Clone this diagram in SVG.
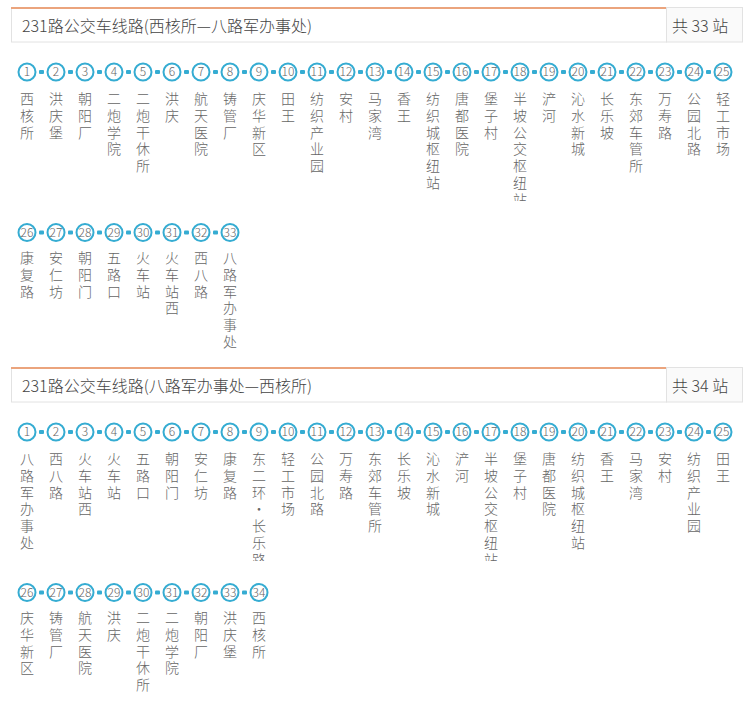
<svg xmlns="http://www.w3.org/2000/svg" width="754" height="708" viewBox="0 0 754 708">
<style>
.box{fill:#fff;stroke:#e2e2e2;stroke-width:1}
.cnt{fill:#fafafa;stroke:#e2e2e2;stroke-width:1}
.top{fill:#eba47d}
.tt{font-family:"Noto Sans CJK SC","Microsoft YaHei",sans-serif;font-size:16px;font-weight:300;fill:#444}
.c{fill:#fff;stroke:#35acd2;stroke-width:2}
.n{font-family:"Noto Sans CJK SC",sans-serif;font-size:12px;font-weight:300;fill:#666;text-anchor:middle}
.nm{font-family:"Noto Sans CJK SC",sans-serif;font-size:14px;font-weight:300;fill:#666;text-anchor:middle}
.b{fill:#35acd2}
</style>
<defs>
<clipPath id="c1"><rect x="0" y="0" width="754" height="201"/></clipPath>
<clipPath id="c2"><rect x="0" y="360" width="754" height="201"/></clipPath>
</defs>
<g id="header1">
<rect class="box" x="11.5" y="8.5" width="655" height="33.5"/>
<rect class="top" x="11" y="7" width="656" height="2"/>
<rect class="cnt" x="666.5" y="7.5" width="76" height="34.5"/>
<text class="tt" x="22" y="32">231路公交车线路(西核所—八路军办事处)</text>
<text class="tt" x="672" y="32">共 33 站</text>
</g>
<g id="header2">
<rect class="box" x="11.5" y="368.5" width="655" height="33.5"/>
<rect class="top" x="11" y="367" width="656" height="2"/>
<rect class="cnt" x="666.5" y="367.5" width="76" height="34.5"/>
<text class="tt" x="22" y="392">231路公交车线路(八路军办事处—西核所)</text>
<text class="tt" x="672" y="392">共 34 站</text>
</g>
<g id="connectors" class="b">
<rect x="39" y="70" width="5" height="4" rx="1"/><rect x="68" y="70" width="5" height="4" rx="1"/><rect x="97" y="70" width="5" height="4" rx="1"/><rect x="126" y="70" width="5" height="4" rx="1"/><rect x="155" y="70" width="5" height="4" rx="1"/><rect x="184" y="70" width="5" height="4" rx="1"/><rect x="213" y="70" width="5" height="4" rx="1"/><rect x="242" y="70" width="5" height="4" rx="1"/><rect x="271" y="70" width="5" height="4" rx="1"/><rect x="300" y="70" width="5" height="4" rx="1"/><rect x="329" y="70" width="5" height="4" rx="1"/><rect x="358" y="70" width="5" height="4" rx="1"/><rect x="387" y="70" width="5" height="4" rx="1"/><rect x="416" y="70" width="5" height="4" rx="1"/><rect x="445" y="70" width="5" height="4" rx="1"/><rect x="474" y="70" width="5" height="4" rx="1"/><rect x="503" y="70" width="5" height="4" rx="1"/><rect x="532" y="70" width="5" height="4" rx="1"/><rect x="561" y="70" width="5" height="4" rx="1"/><rect x="590" y="70" width="5" height="4" rx="1"/><rect x="619" y="70" width="5" height="4" rx="1"/><rect x="648" y="70" width="5" height="4" rx="1"/><rect x="677" y="70" width="5" height="4" rx="1"/><rect x="706" y="70" width="5" height="4" rx="1"/>
<rect x="39" y="230.5" width="5" height="4" rx="1"/><rect x="68" y="230.5" width="5" height="4" rx="1"/><rect x="97" y="230.5" width="5" height="4" rx="1"/><rect x="126" y="230.5" width="5" height="4" rx="1"/><rect x="155" y="230.5" width="5" height="4" rx="1"/><rect x="184" y="230.5" width="5" height="4" rx="1"/><rect x="213" y="230.5" width="5" height="4" rx="1"/>
<rect x="39" y="430" width="5" height="4" rx="1"/><rect x="68" y="430" width="5" height="4" rx="1"/><rect x="97" y="430" width="5" height="4" rx="1"/><rect x="126" y="430" width="5" height="4" rx="1"/><rect x="155" y="430" width="5" height="4" rx="1"/><rect x="184" y="430" width="5" height="4" rx="1"/><rect x="213" y="430" width="5" height="4" rx="1"/><rect x="242" y="430" width="5" height="4" rx="1"/><rect x="271" y="430" width="5" height="4" rx="1"/><rect x="300" y="430" width="5" height="4" rx="1"/><rect x="329" y="430" width="5" height="4" rx="1"/><rect x="358" y="430" width="5" height="4" rx="1"/><rect x="387" y="430" width="5" height="4" rx="1"/><rect x="416" y="430" width="5" height="4" rx="1"/><rect x="445" y="430" width="5" height="4" rx="1"/><rect x="474" y="430" width="5" height="4" rx="1"/><rect x="503" y="430" width="5" height="4" rx="1"/><rect x="532" y="430" width="5" height="4" rx="1"/><rect x="561" y="430" width="5" height="4" rx="1"/><rect x="590" y="430" width="5" height="4" rx="1"/><rect x="619" y="430" width="5" height="4" rx="1"/><rect x="648" y="430" width="5" height="4" rx="1"/><rect x="677" y="430" width="5" height="4" rx="1"/><rect x="706" y="430" width="5" height="4" rx="1"/>
<rect x="39" y="590.5" width="5" height="4" rx="1"/><rect x="68" y="590.5" width="5" height="4" rx="1"/><rect x="97" y="590.5" width="5" height="4" rx="1"/><rect x="126" y="590.5" width="5" height="4" rx="1"/><rect x="155" y="590.5" width="5" height="4" rx="1"/><rect x="184" y="590.5" width="5" height="4" rx="1"/><rect x="213" y="590.5" width="5" height="4" rx="1"/><rect x="242" y="590.5" width="5" height="4" rx="1"/>
</g>
<g id="route1">
<g id="a1"><circle class="c" cx="27" cy="72" r="8.5"/><text class="n" x="27" y="76">1</text><text class="nm" y="104"><tspan x="27">西</tspan><tspan x="27" dy="16.8">核</tspan><tspan x="27" dy="16.8">所</tspan></text></g>
<g id="a2"><circle class="c" cx="56" cy="72" r="8.5"/><text class="n" x="56" y="76">2</text><text class="nm" y="104"><tspan x="56">洪</tspan><tspan x="56" dy="16.8">庆</tspan><tspan x="56" dy="16.8">堡</tspan></text></g>
<g id="a3"><circle class="c" cx="85" cy="72" r="8.5"/><text class="n" x="85" y="76">3</text><text class="nm" y="104"><tspan x="85">朝</tspan><tspan x="85" dy="16.8">阳</tspan><tspan x="85" dy="16.8">厂</tspan></text></g>
<g id="a4"><circle class="c" cx="114" cy="72" r="8.5"/><text class="n" x="114" y="76">4</text><text class="nm" y="104"><tspan x="114">二</tspan><tspan x="114" dy="16.8">炮</tspan><tspan x="114" dy="16.8">学</tspan><tspan x="114" dy="16.8">院</tspan></text></g>
<g id="a5"><circle class="c" cx="143" cy="72" r="8.5"/><text class="n" x="143" y="76">5</text><text class="nm" y="104"><tspan x="143">二</tspan><tspan x="143" dy="16.8">炮</tspan><tspan x="143" dy="16.8">干</tspan><tspan x="143" dy="16.8">休</tspan><tspan x="143" dy="16.8">所</tspan></text></g>
<g id="a6"><circle class="c" cx="172" cy="72" r="8.5"/><text class="n" x="172" y="76">6</text><text class="nm" y="104"><tspan x="172">洪</tspan><tspan x="172" dy="16.8">庆</tspan></text></g>
<g id="a7"><circle class="c" cx="201" cy="72" r="8.5"/><text class="n" x="201" y="76">7</text><text class="nm" y="104"><tspan x="201">航</tspan><tspan x="201" dy="16.8">天</tspan><tspan x="201" dy="16.8">医</tspan><tspan x="201" dy="16.8">院</tspan></text></g>
<g id="a8"><circle class="c" cx="230" cy="72" r="8.5"/><text class="n" x="230" y="76">8</text><text class="nm" y="104"><tspan x="230">铸</tspan><tspan x="230" dy="16.8">管</tspan><tspan x="230" dy="16.8">厂</tspan></text></g>
<g id="a9"><circle class="c" cx="259" cy="72" r="8.5"/><text class="n" x="259" y="76">9</text><text class="nm" y="104"><tspan x="259">庆</tspan><tspan x="259" dy="16.8">华</tspan><tspan x="259" dy="16.8">新</tspan><tspan x="259" dy="16.8">区</tspan></text></g>
<g id="a10"><circle class="c" cx="288" cy="72" r="8.5"/><text class="n" x="288" y="76">10</text><text class="nm" y="104"><tspan x="288">田</tspan><tspan x="288" dy="16.8">王</tspan></text></g>
<g id="a11"><circle class="c" cx="317" cy="72" r="8.5"/><text class="n" x="317" y="76">11</text><text class="nm" y="104"><tspan x="317">纺</tspan><tspan x="317" dy="16.8">织</tspan><tspan x="317" dy="16.8">产</tspan><tspan x="317" dy="16.8">业</tspan><tspan x="317" dy="16.8">园</tspan></text></g>
<g id="a12"><circle class="c" cx="346" cy="72" r="8.5"/><text class="n" x="346" y="76">12</text><text class="nm" y="104"><tspan x="346">安</tspan><tspan x="346" dy="16.8">村</tspan></text></g>
<g id="a13"><circle class="c" cx="375" cy="72" r="8.5"/><text class="n" x="375" y="76">13</text><text class="nm" y="104"><tspan x="375">马</tspan><tspan x="375" dy="16.8">家</tspan><tspan x="375" dy="16.8">湾</tspan></text></g>
<g id="a14"><circle class="c" cx="404" cy="72" r="8.5"/><text class="n" x="404" y="76">14</text><text class="nm" y="104"><tspan x="404">香</tspan><tspan x="404" dy="16.8">王</tspan></text></g>
<g id="a15"><circle class="c" cx="433" cy="72" r="8.5"/><text class="n" x="433" y="76">15</text><text class="nm" y="104"><tspan x="433">纺</tspan><tspan x="433" dy="16.8">织</tspan><tspan x="433" dy="16.8">城</tspan><tspan x="433" dy="16.8">枢</tspan><tspan x="433" dy="16.8">纽</tspan><tspan x="433" dy="16.8">站</tspan></text></g>
<g id="a16"><circle class="c" cx="462" cy="72" r="8.5"/><text class="n" x="462" y="76">16</text><text class="nm" y="104"><tspan x="462">唐</tspan><tspan x="462" dy="16.8">都</tspan><tspan x="462" dy="16.8">医</tspan><tspan x="462" dy="16.8">院</tspan></text></g>
<g id="a17"><circle class="c" cx="491" cy="72" r="8.5"/><text class="n" x="491" y="76">17</text><text class="nm" y="104"><tspan x="491">堡</tspan><tspan x="491" dy="16.8">子</tspan><tspan x="491" dy="16.8">村</tspan></text></g>
<g id="a18"><circle class="c" cx="520" cy="72" r="8.5"/><text class="n" x="520" y="76">18</text><text class="nm" y="104" clip-path="url(#c1)"><tspan x="520">半</tspan><tspan x="520" dy="16.8">坡</tspan><tspan x="520" dy="16.8">公</tspan><tspan x="520" dy="16.8">交</tspan><tspan x="520" dy="16.8">枢</tspan><tspan x="520" dy="16.8">纽</tspan><tspan x="520" dy="16.8">站</tspan></text></g>
<g id="a19"><circle class="c" cx="549" cy="72" r="8.5"/><text class="n" x="549" y="76">19</text><text class="nm" y="104"><tspan x="549">浐</tspan><tspan x="549" dy="16.8">河</tspan></text></g>
<g id="a20"><circle class="c" cx="578" cy="72" r="8.5"/><text class="n" x="578" y="76">20</text><text class="nm" y="104"><tspan x="578">沁</tspan><tspan x="578" dy="16.8">水</tspan><tspan x="578" dy="16.8">新</tspan><tspan x="578" dy="16.8">城</tspan></text></g>
<g id="a21"><circle class="c" cx="607" cy="72" r="8.5"/><text class="n" x="607" y="76">21</text><text class="nm" y="104"><tspan x="607">长</tspan><tspan x="607" dy="16.8">乐</tspan><tspan x="607" dy="16.8">坡</tspan></text></g>
<g id="a22"><circle class="c" cx="636" cy="72" r="8.5"/><text class="n" x="636" y="76">22</text><text class="nm" y="104"><tspan x="636">东</tspan><tspan x="636" dy="16.8">郊</tspan><tspan x="636" dy="16.8">车</tspan><tspan x="636" dy="16.8">管</tspan><tspan x="636" dy="16.8">所</tspan></text></g>
<g id="a23"><circle class="c" cx="665" cy="72" r="8.5"/><text class="n" x="665" y="76">23</text><text class="nm" y="104"><tspan x="665">万</tspan><tspan x="665" dy="16.8">寿</tspan><tspan x="665" dy="16.8">路</tspan></text></g>
<g id="a24"><circle class="c" cx="694" cy="72" r="8.5"/><text class="n" x="694" y="76">24</text><text class="nm" y="104"><tspan x="694">公</tspan><tspan x="694" dy="16.8">园</tspan><tspan x="694" dy="16.8">北</tspan><tspan x="694" dy="16.8">路</tspan></text></g>
<g id="a25"><circle class="c" cx="723" cy="72" r="8.5"/><text class="n" x="723" y="76">25</text><text class="nm" y="104"><tspan x="723">轻</tspan><tspan x="723" dy="16.8">工</tspan><tspan x="723" dy="16.8">市</tspan><tspan x="723" dy="16.8">场</tspan></text></g>
<g id="a26"><circle class="c" cx="27" cy="232.5" r="8.5"/><text class="n" x="27" y="236.5">26</text><text class="nm" y="263"><tspan x="27">康</tspan><tspan x="27" dy="16.8">复</tspan><tspan x="27" dy="16.8">路</tspan></text></g>
<g id="a27"><circle class="c" cx="56" cy="232.5" r="8.5"/><text class="n" x="56" y="236.5">27</text><text class="nm" y="263"><tspan x="56">安</tspan><tspan x="56" dy="16.8">仁</tspan><tspan x="56" dy="16.8">坊</tspan></text></g>
<g id="a28"><circle class="c" cx="85" cy="232.5" r="8.5"/><text class="n" x="85" y="236.5">28</text><text class="nm" y="263"><tspan x="85">朝</tspan><tspan x="85" dy="16.8">阳</tspan><tspan x="85" dy="16.8">门</tspan></text></g>
<g id="a29"><circle class="c" cx="114" cy="232.5" r="8.5"/><text class="n" x="114" y="236.5">29</text><text class="nm" y="263"><tspan x="114">五</tspan><tspan x="114" dy="16.8">路</tspan><tspan x="114" dy="16.8">口</tspan></text></g>
<g id="a30"><circle class="c" cx="143" cy="232.5" r="8.5"/><text class="n" x="143" y="236.5">30</text><text class="nm" y="263"><tspan x="143">火</tspan><tspan x="143" dy="16.8">车</tspan><tspan x="143" dy="16.8">站</tspan></text></g>
<g id="a31"><circle class="c" cx="172" cy="232.5" r="8.5"/><text class="n" x="172" y="236.5">31</text><text class="nm" y="263"><tspan x="172">火</tspan><tspan x="172" dy="16.8">车</tspan><tspan x="172" dy="16.8">站</tspan><tspan x="172" dy="16.8">西</tspan></text></g>
<g id="a32"><circle class="c" cx="201" cy="232.5" r="8.5"/><text class="n" x="201" y="236.5">32</text><text class="nm" y="263"><tspan x="201">西</tspan><tspan x="201" dy="16.8">八</tspan><tspan x="201" dy="16.8">路</tspan></text></g>
<g id="a33"><circle class="c" cx="230" cy="232.5" r="8.5"/><text class="n" x="230" y="236.5">33</text><text class="nm" y="263"><tspan x="230">八</tspan><tspan x="230" dy="16.8">路</tspan><tspan x="230" dy="16.8">军</tspan><tspan x="230" dy="16.8">办</tspan><tspan x="230" dy="16.8">事</tspan><tspan x="230" dy="16.8">处</tspan></text></g>
</g>
<g id="route2">
<g id="b1"><circle class="c" cx="27" cy="432" r="8.5"/><text class="n" x="27" y="436">1</text><text class="nm" y="464"><tspan x="27">八</tspan><tspan x="27" dy="16.8">路</tspan><tspan x="27" dy="16.8">军</tspan><tspan x="27" dy="16.8">办</tspan><tspan x="27" dy="16.8">事</tspan><tspan x="27" dy="16.8">处</tspan></text></g>
<g id="b2"><circle class="c" cx="56" cy="432" r="8.5"/><text class="n" x="56" y="436">2</text><text class="nm" y="464"><tspan x="56">西</tspan><tspan x="56" dy="16.8">八</tspan><tspan x="56" dy="16.8">路</tspan></text></g>
<g id="b3"><circle class="c" cx="85" cy="432" r="8.5"/><text class="n" x="85" y="436">3</text><text class="nm" y="464"><tspan x="85">火</tspan><tspan x="85" dy="16.8">车</tspan><tspan x="85" dy="16.8">站</tspan><tspan x="85" dy="16.8">西</tspan></text></g>
<g id="b4"><circle class="c" cx="114" cy="432" r="8.5"/><text class="n" x="114" y="436">4</text><text class="nm" y="464"><tspan x="114">火</tspan><tspan x="114" dy="16.8">车</tspan><tspan x="114" dy="16.8">站</tspan></text></g>
<g id="b5"><circle class="c" cx="143" cy="432" r="8.5"/><text class="n" x="143" y="436">5</text><text class="nm" y="464"><tspan x="143">五</tspan><tspan x="143" dy="16.8">路</tspan><tspan x="143" dy="16.8">口</tspan></text></g>
<g id="b6"><circle class="c" cx="172" cy="432" r="8.5"/><text class="n" x="172" y="436">6</text><text class="nm" y="464"><tspan x="172">朝</tspan><tspan x="172" dy="16.8">阳</tspan><tspan x="172" dy="16.8">门</tspan></text></g>
<g id="b7"><circle class="c" cx="201" cy="432" r="8.5"/><text class="n" x="201" y="436">7</text><text class="nm" y="464"><tspan x="201">安</tspan><tspan x="201" dy="16.8">仁</tspan><tspan x="201" dy="16.8">坊</tspan></text></g>
<g id="b8"><circle class="c" cx="230" cy="432" r="8.5"/><text class="n" x="230" y="436">8</text><text class="nm" y="464"><tspan x="230">康</tspan><tspan x="230" dy="16.8">复</tspan><tspan x="230" dy="16.8">路</tspan></text></g>
<g id="b9"><circle class="c" cx="259" cy="432" r="8.5"/><text class="n" x="259" y="436">9</text><text class="nm" y="464" clip-path="url(#c2)"><tspan x="259">东</tspan><tspan x="259" dy="16.8">二</tspan><tspan x="259" dy="16.8">环</tspan><tspan x="259" dy="16.8">·</tspan><tspan x="259" dy="16.8">长</tspan><tspan x="259" dy="16.8">乐</tspan><tspan x="259" dy="16.8">路</tspan></text></g>
<g id="b10"><circle class="c" cx="288" cy="432" r="8.5"/><text class="n" x="288" y="436">10</text><text class="nm" y="464"><tspan x="288">轻</tspan><tspan x="288" dy="16.8">工</tspan><tspan x="288" dy="16.8">市</tspan><tspan x="288" dy="16.8">场</tspan></text></g>
<g id="b11"><circle class="c" cx="317" cy="432" r="8.5"/><text class="n" x="317" y="436">11</text><text class="nm" y="464"><tspan x="317">公</tspan><tspan x="317" dy="16.8">园</tspan><tspan x="317" dy="16.8">北</tspan><tspan x="317" dy="16.8">路</tspan></text></g>
<g id="b12"><circle class="c" cx="346" cy="432" r="8.5"/><text class="n" x="346" y="436">12</text><text class="nm" y="464"><tspan x="346">万</tspan><tspan x="346" dy="16.8">寿</tspan><tspan x="346" dy="16.8">路</tspan></text></g>
<g id="b13"><circle class="c" cx="375" cy="432" r="8.5"/><text class="n" x="375" y="436">13</text><text class="nm" y="464"><tspan x="375">东</tspan><tspan x="375" dy="16.8">郊</tspan><tspan x="375" dy="16.8">车</tspan><tspan x="375" dy="16.8">管</tspan><tspan x="375" dy="16.8">所</tspan></text></g>
<g id="b14"><circle class="c" cx="404" cy="432" r="8.5"/><text class="n" x="404" y="436">14</text><text class="nm" y="464"><tspan x="404">长</tspan><tspan x="404" dy="16.8">乐</tspan><tspan x="404" dy="16.8">坡</tspan></text></g>
<g id="b15"><circle class="c" cx="433" cy="432" r="8.5"/><text class="n" x="433" y="436">15</text><text class="nm" y="464"><tspan x="433">沁</tspan><tspan x="433" dy="16.8">水</tspan><tspan x="433" dy="16.8">新</tspan><tspan x="433" dy="16.8">城</tspan></text></g>
<g id="b16"><circle class="c" cx="462" cy="432" r="8.5"/><text class="n" x="462" y="436">16</text><text class="nm" y="464"><tspan x="462">浐</tspan><tspan x="462" dy="16.8">河</tspan></text></g>
<g id="b17"><circle class="c" cx="491" cy="432" r="8.5"/><text class="n" x="491" y="436">17</text><text class="nm" y="464" clip-path="url(#c2)"><tspan x="491">半</tspan><tspan x="491" dy="16.8">坡</tspan><tspan x="491" dy="16.8">公</tspan><tspan x="491" dy="16.8">交</tspan><tspan x="491" dy="16.8">枢</tspan><tspan x="491" dy="16.8">纽</tspan><tspan x="491" dy="16.8">站</tspan></text></g>
<g id="b18"><circle class="c" cx="520" cy="432" r="8.5"/><text class="n" x="520" y="436">18</text><text class="nm" y="464"><tspan x="520">堡</tspan><tspan x="520" dy="16.8">子</tspan><tspan x="520" dy="16.8">村</tspan></text></g>
<g id="b19"><circle class="c" cx="549" cy="432" r="8.5"/><text class="n" x="549" y="436">19</text><text class="nm" y="464"><tspan x="549">唐</tspan><tspan x="549" dy="16.8">都</tspan><tspan x="549" dy="16.8">医</tspan><tspan x="549" dy="16.8">院</tspan></text></g>
<g id="b20"><circle class="c" cx="578" cy="432" r="8.5"/><text class="n" x="578" y="436">20</text><text class="nm" y="464"><tspan x="578">纺</tspan><tspan x="578" dy="16.8">织</tspan><tspan x="578" dy="16.8">城</tspan><tspan x="578" dy="16.8">枢</tspan><tspan x="578" dy="16.8">纽</tspan><tspan x="578" dy="16.8">站</tspan></text></g>
<g id="b21"><circle class="c" cx="607" cy="432" r="8.5"/><text class="n" x="607" y="436">21</text><text class="nm" y="464"><tspan x="607">香</tspan><tspan x="607" dy="16.8">王</tspan></text></g>
<g id="b22"><circle class="c" cx="636" cy="432" r="8.5"/><text class="n" x="636" y="436">22</text><text class="nm" y="464"><tspan x="636">马</tspan><tspan x="636" dy="16.8">家</tspan><tspan x="636" dy="16.8">湾</tspan></text></g>
<g id="b23"><circle class="c" cx="665" cy="432" r="8.5"/><text class="n" x="665" y="436">23</text><text class="nm" y="464"><tspan x="665">安</tspan><tspan x="665" dy="16.8">村</tspan></text></g>
<g id="b24"><circle class="c" cx="694" cy="432" r="8.5"/><text class="n" x="694" y="436">24</text><text class="nm" y="464"><tspan x="694">纺</tspan><tspan x="694" dy="16.8">织</tspan><tspan x="694" dy="16.8">产</tspan><tspan x="694" dy="16.8">业</tspan><tspan x="694" dy="16.8">园</tspan></text></g>
<g id="b25"><circle class="c" cx="723" cy="432" r="8.5"/><text class="n" x="723" y="436">25</text><text class="nm" y="464"><tspan x="723">田</tspan><tspan x="723" dy="16.8">王</tspan></text></g>
<g id="b26"><circle class="c" cx="27" cy="592.5" r="8.5"/><text class="n" x="27" y="596.5">26</text><text class="nm" y="623"><tspan x="27">庆</tspan><tspan x="27" dy="16.8">华</tspan><tspan x="27" dy="16.8">新</tspan><tspan x="27" dy="16.8">区</tspan></text></g>
<g id="b27"><circle class="c" cx="56" cy="592.5" r="8.5"/><text class="n" x="56" y="596.5">27</text><text class="nm" y="623"><tspan x="56">铸</tspan><tspan x="56" dy="16.8">管</tspan><tspan x="56" dy="16.8">厂</tspan></text></g>
<g id="b28"><circle class="c" cx="85" cy="592.5" r="8.5"/><text class="n" x="85" y="596.5">28</text><text class="nm" y="623"><tspan x="85">航</tspan><tspan x="85" dy="16.8">天</tspan><tspan x="85" dy="16.8">医</tspan><tspan x="85" dy="16.8">院</tspan></text></g>
<g id="b29"><circle class="c" cx="114" cy="592.5" r="8.5"/><text class="n" x="114" y="596.5">29</text><text class="nm" y="623"><tspan x="114">洪</tspan><tspan x="114" dy="16.8">庆</tspan></text></g>
<g id="b30"><circle class="c" cx="143" cy="592.5" r="8.5"/><text class="n" x="143" y="596.5">30</text><text class="nm" y="623"><tspan x="143">二</tspan><tspan x="143" dy="16.8">炮</tspan><tspan x="143" dy="16.8">干</tspan><tspan x="143" dy="16.8">休</tspan><tspan x="143" dy="16.8">所</tspan></text></g>
<g id="b31"><circle class="c" cx="172" cy="592.5" r="8.5"/><text class="n" x="172" y="596.5">31</text><text class="nm" y="623"><tspan x="172">二</tspan><tspan x="172" dy="16.8">炮</tspan><tspan x="172" dy="16.8">学</tspan><tspan x="172" dy="16.8">院</tspan></text></g>
<g id="b32"><circle class="c" cx="201" cy="592.5" r="8.5"/><text class="n" x="201" y="596.5">32</text><text class="nm" y="623"><tspan x="201">朝</tspan><tspan x="201" dy="16.8">阳</tspan><tspan x="201" dy="16.8">厂</tspan></text></g>
<g id="b33"><circle class="c" cx="230" cy="592.5" r="8.5"/><text class="n" x="230" y="596.5">33</text><text class="nm" y="623"><tspan x="230">洪</tspan><tspan x="230" dy="16.8">庆</tspan><tspan x="230" dy="16.8">堡</tspan></text></g>
<g id="b34"><circle class="c" cx="259" cy="592.5" r="8.5"/><text class="n" x="259" y="596.5">34</text><text class="nm" y="623"><tspan x="259">西</tspan><tspan x="259" dy="16.8">核</tspan><tspan x="259" dy="16.8">所</tspan></text></g>
</g>
</svg>
